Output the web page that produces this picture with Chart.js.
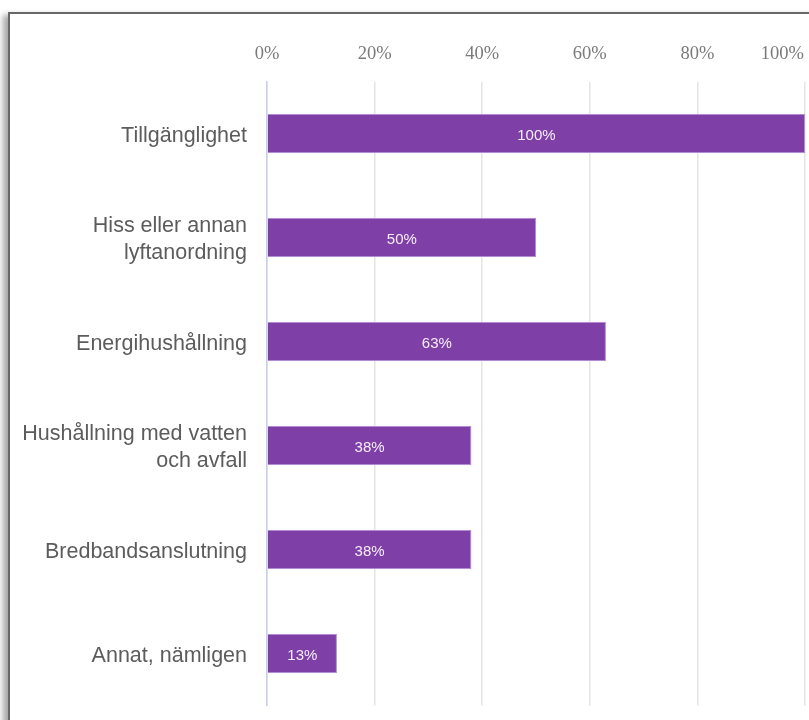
<!DOCTYPE html>
<html>
<head>
<meta charset="utf-8">
<script src="https://cdn.jsdelivr.net/npm/chart.js@4/dist/chart.umd.min.js"></script>
<style>
  html, body { margin: 0; padding: 0; background: #fff; overflow: hidden; }
  #card {
    position: absolute; left: 8px; top: 12px; width: 900px; height: 800px;
    border-top: 2px solid #686868; border-left: 2px solid #686868;
    box-shadow: -5px 3px 6px rgba(0,0,0,0.35);
    background: #fff;
  }
  #wrap { position: absolute; left: 0; top: 0; width: 809px; height: 720px; }
</style>
</head>
<body>
<div id="card"></div>
<div id="wrap"><canvas id="barChart"></canvas></div>
<script>
// Data
const categories = [
    "Tillgänglighet",
    ["Hiss eller annan", "lyftanordning"],
    "Energihushållning",
    ["Hushållning med vatten", "och avfall"],
    "Bredbandsanslutning",
    "Annat, nämligen"
];
const shareValues = [100, 50, 63, 38, 38, 13];
const tickValues = [0, 20, 40, 60, 80, 100];

const barChartCanvas = document.getElementById("barChart");

// draws the % value in the middle of each bar
const valueLabels = {
    id: "valueLabels",
    afterDatasetsDraw(chart) {
        const ctx = chart.ctx;
        const meta = chart.getDatasetMeta(0);
        ctx.save();
        ctx.font = "15px 'Liberation Sans', Arial, sans-serif";
        ctx.fillStyle = "#f6eefa";
        ctx.textAlign = "center";
        ctx.textBaseline = "middle";
        meta.data.forEach(function(bar, i) {
            const mid = (bar.x + bar.base) / 2;
            ctx.fillText(shareValues[i] + "%", mid, bar.y + 2.5);
        });
        ctx.restore();
    }
};

// x tick labels on top, last one pulled inside the canvas
const topTicks = {
    id: "topTicks",
    afterDraw(chart) {
        const ctx = chart.ctx;
        const xScale = chart.scales.x;
        ctx.save();
        ctx.font = "18.5px 'Liberation Serif', 'DejaVu Serif', serif";
        ctx.fillStyle = "#7a7a7a";
        ctx.textBaseline = "middle";
        ctx.textAlign = "center";
        tickValues.forEach(function(v) {
            const text = v + "%";
            let x = xScale.getPixelForValue(v);
            const w = ctx.measureText(text).width;
            if (x + w / 2 > chart.width - 5) {
                x = chart.width - 5 - w / 2;
            }
            ctx.fillText(text, x, 54);
        });
        ctx.restore();
    }
};

new Chart(barChartCanvas, {
    type: "bar",
    data: {
        labels: categories,
        datasets: [{
            data: shareValues,
            backgroundColor: "#7e3fa7",
            borderColor: "#b48ad2",
            borderWidth: 1,
            barPercentage: 0.75,
            categoryPercentage: 0.5
        }]
    },
    options: {
        indexAxis: "y",
        responsive: true,
        maintainAspectRatio: false,
        animation: false,
        layout: { padding: { top: 0, left: 0, right: 4, bottom: 14.5 } },
        plugins: {
            legend: { display: false },
            tooltip: { enabled: false }
        },
        scales: {
            x: {
                position: "top",
                min: 0,
                max: 100,
                afterFit: function(scale) { scale.height = 81.5; },
                afterBuildTicks: function(scale) {
                    scale.ticks = tickValues.map(function(v) { return { value: v }; });
                },
                ticks: { display: false },
                grid: { color: "#e4e4e4", lineWidth: 1.5, drawTicks: false },
                border: { display: false }
            },
            y: {
                afterFit: function(scale) {
                    scale.width = 267;
                    scale.paddingTop = 0;
                    scale.paddingBottom = 0;
                },
                ticks: {
                    color: "#5c5c5c",
                    padding: 20,
                    labelOffset: 2.5,
                    font: { family: "'Liberation Sans', Arial, sans-serif", size: 21.5, lineHeight: 1.25 }
                },
                grid: { display: false, drawTicks: false },
                border: { display: true, color: "#c9cdf0", width: 1.5 }
            }
        }
    },
    plugins: [valueLabels, topTicks]
});
</script>
</body>
</html>
